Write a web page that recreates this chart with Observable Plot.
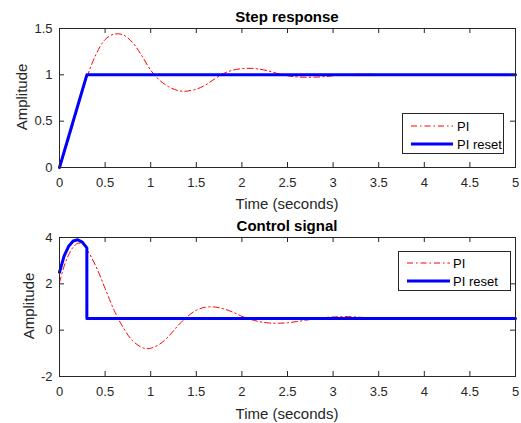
<!DOCTYPE html>
<html>
<head>
<meta charset="utf-8">
<script src="https://cdn.jsdelivr.net/npm/d3@7"></script>
<script src="https://cdn.jsdelivr.net/npm/@observablehq/plot@0.6"></script>
<style>
  body { margin: 0; background: #fff; font-family: "Liberation Sans", Arial, sans-serif; }
  #root { position: relative; width: 521px; height: 423px; overflow: hidden; background: #fff; }
  .abs { position: absolute; transform: translate(-50%, -50%); white-space: nowrap; line-height: 1; color: #262626; }
  .title { font-weight: bold; font-size: 15px; color: #000; }
  .lab { font-size: 15px; }
  .ylab { transform: translate(-50%, -50%) rotate(-90deg); }
  .plot { position: absolute; left: 0; }
  .legend { position: absolute; background: #fff; border: 1px solid #262626; box-sizing: border-box; }
</style>
</head>
<body>
<div id="root"></div>
<script>
// ---- data ----
const xTicks = [0, 0.5, 1, 1.5, 2, 2.5, 3, 3.5, 4, 4.5, 5];
const stepYTicks = [0, 0.5, 1, 1.5];
const ctrlYTicks = [-2, 0, 2, 4];
const seriesNames = ["PI", "PI reset"];

// Step response, PI (red dash-dot)
const stepPiT = [0, 0.1, 0.2, 0.3, 0.4, 0.5, 0.6, 0.7, 0.8, 0.9, 1.0, 1.1, 1.2, 1.3, 1.36, 1.4, 1.5, 1.6, 1.7, 1.8, 1.9, 2.0, 2.1, 2.2, 2.3, 2.4, 2.5, 2.6, 2.7, 2.8, 2.9, 3.0, 3.1, 3.2, 3.3, 3.4, 3.5, 3.6, 3.8, 4.0, 4.5, 5.0];
const stepPiY = [0, 0.3, 0.64, 0.97, 1.22, 1.38, 1.44, 1.43, 1.35, 1.21, 1.05, 0.94, 0.87, 0.83, 0.823, 0.825, 0.845, 0.89, 0.955, 1.015, 1.05, 1.067, 1.07, 1.06, 1.04, 1.012, 0.99, 0.978, 0.974, 0.975, 0.98, 0.99, 0.998, 1.004, 1.007, 1.006, 1.004, 1.001, 0.999, 0.999, 1.0, 1.0];
// Step response, PI reset (blue)
const stepResetT = [0, 0.3, 5];
const stepResetY = [0, 1, 1];

// Control signal, PI (red dash-dot)
const ctrlPiT = [0, 0.05, 0.1, 0.15, 0.2, 0.25, 0.3, 0.4, 0.5, 0.6, 0.7, 0.8, 0.9, 0.96, 1.0, 1.1, 1.2, 1.3, 1.4, 1.5, 1.6, 1.7, 1.8, 1.9, 2.0, 2.1, 2.2, 2.3, 2.4, 2.5, 2.6, 2.7, 2.8, 2.9, 3.0, 3.1, 3.2, 3.3, 3.4, 3.5, 3.6, 3.7, 3.8, 4.0, 4.5, 5.0];
const ctrlPiY = [2.05, 2.75, 3.25, 3.58, 3.75, 3.72, 3.48, 2.75, 1.8, 0.85, 0.1, -0.45, -0.74, -0.8, -0.78, -0.6, -0.25, 0.2, 0.58, 0.86, 0.99, 1.0, 0.92, 0.78, 0.6, 0.46, 0.36, 0.31, 0.3, 0.32, 0.37, 0.43, 0.49, 0.54, 0.57, 0.585, 0.58, 0.555, 0.525, 0.5, 0.48, 0.475, 0.48, 0.5, 0.5, 0.5];
// Control signal, PI reset (blue)
const ctrlResetT = [0, 0.05, 0.1, 0.15, 0.2, 0.25, 0.3, 0.3, 5];
const ctrlResetY = [2.5, 3.2, 3.62, 3.85, 3.9, 3.8, 3.55, 0.5, 0.5];

// ---- build ----
const ink = "#262626";
const W = 521;
const dashDot = "6,3,1.5,3";
const zip = (t, y) => t.map((d, i) => ({t: d, y: y[i]}));

function makePlot({height, mt, mb, yDomain, yTicks, pi, reset}) {
  const ml = 59, mr = 6;
  const pw = W - ml - mr, ph = height - mt - mb;
  const tl = 5;
  return Plot.plot({
    width: W, height,
    marginLeft: ml, marginRight: mr, marginTop: mt, marginBottom: mb,
    style: {fontFamily: "'Liberation Sans', Arial, sans-serif", fontSize: "13px", color: ink, background: "#fff"},
    x: {domain: [0, 5], ticks: xTicks},
    y: {domain: yDomain, ticks: yTicks},
    marks: [
      Plot.line(pi, {x: "t", y: "y", stroke: "#ff0000", strokeWidth: 1, strokeDasharray: dashDot, curve: "catmull-rom"}),
      Plot.line(reset, {x: "t", y: "y", stroke: "#0000ff", strokeWidth: 3, strokeLinejoin: "round"}),
      Plot.tickX(xTicks, {x: d => d, stroke: ink, insetTop: ph - tl}),
      Plot.tickX(xTicks, {x: d => d, stroke: ink, insetBottom: ph - tl}),
      Plot.tickY(yTicks, {y: d => d, stroke: ink, insetRight: pw - tl}),
      Plot.tickY(yTicks, {y: d => d, stroke: ink, insetLeft: pw - tl}),
      Plot.frame({stroke: ink}),
      Plot.axisX({ticks: xTicks, tickSize: 0, tickPadding: 10, tickFormat: d => String(d), label: null, fill: ink, fontSize: 13}),
      Plot.axisY({ticks: yTicks, tickSize: 0, tickPadding: 7, tickFormat: d => String(d), label: null, fill: ink, fontSize: 13})
    ]
  });
}

const root = document.getElementById("root");

const topPlot = makePlot({height: 200, mt: 28, mb: 33, yDomain: [0, 1.5], yTicks: stepYTicks,
  pi: zip(stepPiT, stepPiY), reset: zip(stepResetT, stepResetY)});
topPlot.classList.add("plot"); topPlot.style.top = "0px";
root.appendChild(topPlot);

const botPlot = makePlot({height: 223, mt: 37, mb: 47, yDomain: [-2, 4], yTicks: ctrlYTicks,
  pi: zip(ctrlPiT, ctrlPiY), reset: zip(ctrlResetT, ctrlResetY)});
botPlot.classList.add("plot"); botPlot.style.top = "200px";
root.appendChild(botPlot);

function label(text, cls, x, y) {
  const d = document.createElement("div");
  d.className = "abs " + cls;
  d.textContent = text;
  d.style.left = x + "px"; d.style.top = y + "px";
  root.appendChild(d);
}
label("Step response", "title", 287, 16);
label("Time (seconds)", "lab", 287, 203);
label("Amplitude", "lab ylab", 21, 97);
label("Control signal", "title", 287, 225);
label("Time (seconds)", "lab", 287, 413);
label("Amplitude", "lab ylab", 28, 306);

function legend(left, topPx, w, h, x0, x1, tx, y0, y1) {
  const div = document.createElement("div");
  div.className = "legend";
  Object.assign(div.style, {left: left + "px", top: topPx + "px", width: w + "px", height: h + "px"});
  const svg = d3.create("svg").attr("width", w - 2).attr("height", h - 2).style("position", "absolute").style("left", "0").style("top", "0");
  const rows = [
    {name: seriesNames[0], color: "#ff0000", sw: 1, dash: dashDot, y: y0},
    {name: seriesNames[1], color: "#0000ff", sw: 3, dash: null, y: y1}
  ];
  for (const r of rows) {
    svg.append("line").attr("x1", x0).attr("x2", x1).attr("y1", r.y).attr("y2", r.y)
      .attr("stroke", r.color).attr("stroke-width", r.sw).attr("stroke-dasharray", r.dash);
    svg.append("text").attr("x", tx).attr("y", r.y).attr("dy", "0.35em")
      .attr("font-family", "'Liberation Sans', Arial, sans-serif").attr("font-size", 13).attr("fill", "#000").text(r.name);
  }
  div.appendChild(svg.node());
  root.appendChild(div);
}
legend(402, 113, 102, 41, 8, 50, 54, 12, 30);
legend(398, 251, 113, 40, 8, 51, 54, 11, 29);
</script>
</body>
</html>
